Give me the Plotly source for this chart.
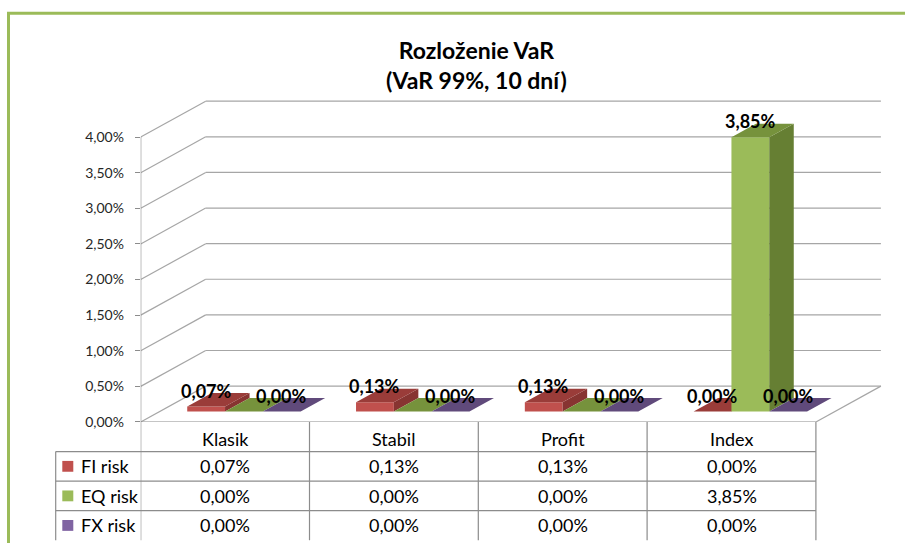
import plotly.graph_objects as go

# ---------------- data ----------------
categories = ["Klasik", "Stabil", "Profit", "Index"]
series_names = ["FI risk", "EQ risk", "FX risk"]
fi_risk = [0.07, 0.13, 0.13, 0.00]
eq_risk = [0.00, 0.00, 0.00, 3.85]
fx_risk = [0.00, 0.00, 0.00, 0.00]
y_ticks = [0, 0.5, 1.0, 1.5, 2.0, 2.5, 3.0, 3.5, 4.0]
y_tick_labels = ["0,00%", "0,50%", "1,00%", "1,50%", "2,00%", "2,50%", "3,00%", "3,50%", "4,00%"]
title_text = "Rozloženie VaR<br>(VaR 99%, 10 dní)"

series_values = [fi_risk, eq_risk, fx_risk]
front_colors = ["#c0504d", "#9bbb59", "#8064a2"]
top_colors = ["#9a3c39", "#76923c", "#604a7b"]
side_colors = ["#873431", "#667f33", "#54406c"]

FONT = "Lato, 'Open Sans', sans-serif"
W, H = 905, 543

# ---------------- geometry (pixels -> axis units) ----------------
X0_PX = 140.7      # front-left corner of floor
Y0_PX = 428.3      # front floor line = 0 %
UX = 168.8         # px per category
UY = 72.3          # px per 1 %
TOP_PX = 90.0
DX = 65.0 / UX     # full depth, x units
DY = 36.4 / UY     # full depth, % units
BAR_W = 0.224
F0 = 0.29          # depth position of bar fronts
FD = 0.377         # bar depth
SX, BASE = F0 * DX, F0 * DY
DDX, DDY = FD * DX, FD * DY

x_range = [-0.5, -0.5 + (W - X0_PX) / UX]
y_dom0 = (H - Y0_PX) / H
y_dom1 = (H - TOP_PX) / H
y_range = [0, (Y0_PX - TOP_PX) / UY]


def pct(v):
    return f"{v:.2f}".replace(".", ",") + "%"


def px_x(px):
    return px / W


def px_y(py):
    return 1 - py / H


fig = go.Figure()
axis_ids = [("x", "y"), ("x2", "y2"), ("x3", "y3")]

for j, vals in enumerate(series_values):
    xa, ya = axis_ids[j]
    centers = [i - BAR_W + j * BAR_W + SX for i in range(len(categories))]
    fig.add_trace(go.Bar(
        x=centers, y=vals, base=[BASE] * len(vals), width=BAR_W,
        marker=dict(color=front_colors[j], line=dict(width=0)),
        name=series_names[j], xaxis=xa, yaxis=ya, hoverinfo="skip"))
    tx, ty, sxs, sys_ = [], [], [], []
    for c, v in zip(centers, vals):
        xl, xr = c - BAR_W / 2, c + BAR_W / 2
        yb, yt = BASE, BASE + v
        tx += [xl, xr, xr + DDX, xl + DDX, xl, None]
        ty += [yt, yt, yt + DDY, yt + DDY, yt, None]
        sxs += [xr, xr, xr + DDX, xr + DDX, xr, None]
        sys_ += [yb, yt, yt + DDY, yb + DDY, yb, None]
    fig.add_trace(go.Scatter(x=sxs, y=sys_, mode="lines", fill="toself",
                             fillcolor=side_colors[j], line=dict(width=0),
                             xaxis=xa, yaxis=ya, hoverinfo="skip"))
    fig.add_trace(go.Scatter(x=tx, y=ty, mode="lines", fill="toself",
                             fillcolor=top_colors[j], line=dict(width=0),
                             xaxis=xa, yaxis=ya, hoverinfo="skip"))

# ---------------- walls / grid ----------------
GRID = "#a6a6a6"
LINE = "#8c8c8c"
shapes = []
for v in y_ticks:
    shapes.append(dict(type="line", xref="x", yref="y", x0=-0.5, y0=v, x1=-0.5 + DX, y1=v + DY,
                       line=dict(color=GRID, width=1.2), layer="below"))
    shapes.append(dict(type="line", xref="x", yref="y", x0=-0.5 + DX, y0=v + DY, x1=3.5 + DX, y1=v + DY,
                       line=dict(color=GRID, width=1.2), layer="below"))
shapes.append(dict(type="line", xref="x", yref="y", x0=-0.5, y0=0, x1=3.5, y1=0,
                   line=dict(color=LINE, width=1.2), layer="below"))
shapes.append(dict(type="line", xref="x", yref="y", x0=3.5, y0=0, x1=3.5 + DX, y1=DY,
                   line=dict(color=GRID, width=1.2), layer="below"))
shapes.append(dict(type="line", xref="x", yref="y", x0=-0.5, y0=0, x1=-0.5, y1=4.0,
                   line=dict(color=LINE, width=1.2), layer="below"))

# ---------------- data table ----------------
ROW_TOP = [428.3, 458.3, 488.3, 518.3, 548.3]
TABLE_LEFT = 55.7
TXT = 18
right_px = X0_PX + len(categories) * UX
for k in range(len(categories) + 1):
    shapes.append(dict(type="line", xref="x", yref="paper", x0=-0.5 + k, x1=-0.5 + k,
                       y0=px_y(ROW_TOP[0]), y1=px_y(ROW_TOP[-1]), line=dict(color=LINE, width=1.2)))
for r in range(1, 4):
    shapes.append(dict(type="line", xref="paper", yref="paper", x0=px_x(TABLE_LEFT), x1=px_x(right_px),
                       y0=px_y(ROW_TOP[r]), y1=px_y(ROW_TOP[r]), line=dict(color=LINE, width=1.2)))
shapes.append(dict(type="line", xref="paper", yref="paper", x0=px_x(TABLE_LEFT), x1=px_x(TABLE_LEFT),
                   y0=px_y(ROW_TOP[1]), y1=px_y(ROW_TOP[-1]), line=dict(color=LINE, width=1.2)))

annotations = []
for i, cat in enumerate(categories):
    annotations.append(dict(xref="x", yref="paper", x=i, y=px_y((ROW_TOP[0] + ROW_TOP[1]) / 2 + 2),
                            text=cat, showarrow=False, xanchor="center", yanchor="middle",
                            font=dict(family=FONT, size=TXT, color="#000000")))
for r, (name, vals) in enumerate(zip(series_names, series_values)):
    yc = (ROW_TOP[r + 1] + ROW_TOP[r + 2]) / 2
    shapes.append(dict(type="rect", xref="paper", yref="paper", x0=px_x(62.3), x1=px_x(73.3),
                       y0=px_y(yc - 5.5), y1=px_y(yc + 5.5), fillcolor=front_colors[r],
                       line=dict(width=0)))
    annotations.append(dict(xref="paper", yref="paper", x=px_x(78.5), y=px_y(yc),
                            text=name, showarrow=False, xanchor="left", yanchor="middle",
                            font=dict(family=FONT, size=TXT, color="#000000")))
    for i, v in enumerate(vals):
        annotations.append(dict(xref="x", yref="paper", x=i, y=px_y(yc),
                                text=pct(v), showarrow=False, xanchor="center", yanchor="middle",
                                font=dict(family=FONT, size=TXT, color="#000000")))

# ---------------- data labels ----------------
for j, vals in enumerate(series_values):
    for i, v in enumerate(vals):
        if j == 1 and v == 0:
            continue  # hidden in the original (overlapping label)
        c = i - BAR_W + j * BAR_W + SX
        annotations.append(dict(xref="x", yref="y", x=c, y=BASE + v, yshift=16,
                                text="<b>" + pct(v) + "</b>", showarrow=False,
                                xanchor="center", yanchor="middle",
                                font=dict(family=FONT, size=18, color="#000000")))

# ---------------- title (two centred lines) ----------------
annotations.append(dict(xref="paper", yref="paper", x=476 / W, y=px_y(65.5),
                        text="<b>" + title_text + "</b>", showarrow=False,
                        xanchor="center", yanchor="middle",
                        font=dict(family=FONT, size=23, color="#000000")))

# ---------------- outer green frame ----------------
shapes.append(dict(type="line", xref="paper", yref="paper", x0=px_x(8.5), x1=px_x(8.5),
                   y0=px_y(13), y1=px_y(560), line=dict(color="#9bbb59", width=3)))
shapes.append(dict(type="line", xref="paper", yref="paper", x0=px_x(7), x1=px_x(920),
                   y0=px_y(13.5), y1=px_y(13.5), line=dict(color="#9bbb59", width=3)))

hidden_x = dict(range=x_range, domain=[X0_PX / W, 1], visible=False, fixedrange=True)
hidden_y = dict(range=y_range, domain=[y_dom0, y_dom1], visible=False, fixedrange=True)

fig.update_layout(
    width=W, height=H, autosize=False,
    margin=dict(l=0, r=0, t=0, b=0, pad=0),
    paper_bgcolor="white", plot_bgcolor="rgba(0,0,0,0)",
    showlegend=False, barmode="overlay",
    xaxis=dict(range=x_range, domain=[X0_PX / W, 1], visible=False, fixedrange=True),
    yaxis=dict(range=y_range, domain=[y_dom0, y_dom1], showgrid=False, zeroline=False,
               showline=False, ticks="outside", ticklen=5, tickwidth=1.2, tickcolor=LINE,
               tickvals=y_ticks, ticktext=y_tick_labels, ticklabelstandoff=8,
               tickfont=dict(family=FONT, size=14, color="#262626"), fixedrange=True),
    xaxis2=dict(hidden_x, overlaying="x", matches="x", anchor="y2"),
    yaxis2=dict(hidden_y, overlaying="y", matches="y", anchor="x2"),
    xaxis3=dict(hidden_x, overlaying="x", matches="x", anchor="y3"),
    yaxis3=dict(hidden_y, overlaying="y", matches="y", anchor="x3"),
    shapes=shapes, annotations=annotations,
)

page_fix = (
    "var s=document.createElement('style');"
    "s.innerHTML='html,body{margin:0;padding:0;overflow:hidden;width:905px;height:543px;}"
    ".plotly-graph-div{display:block;}';"
    "document.head.appendChild(s);"
)
fig.write_html("out.html", config={"displayModeBar": False, "responsive": False},
               post_script=page_fix)
